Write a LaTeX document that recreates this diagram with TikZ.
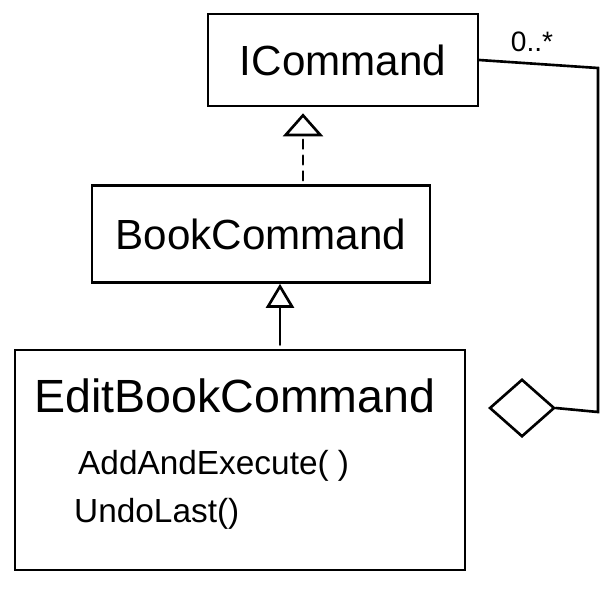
\documentclass[tikz,border=0pt]{standalone}
\usepackage{fontspec}
\setmainfont{Liberation Sans}
\usepackage{tikz}
\usetikzlibrary{arrows.meta,positioning,calc,shapes.geometric}

\begin{document}
\begin{tikzpicture}[
    x=0.02cm, y=-0.02cm,
    >=Latex,
    cls/.style={draw=black, line width=1.5pt, inner sep=0pt, align=center},
    title/.style={font=\fontsize{24}{28}\selectfont},
    meth/.style={anchor=base west, font=\fontsize{19}{23}\selectfont},
    conn/.style={line width=1.5pt, line cap=round},
    inherit/.style={conn, -{Triangle[open, length=4.8mm, width=5.6mm, line width=1.5pt]}},
    realize/.style={conn, dash pattern=on 5pt off 4pt, -{Triangle[open, length=4.6mm, width=8mm, line width=1.5pt]}}
]
\useasboundingbox (0,0) rectangle (601,596);

% classes
\node[cls, title, minimum width=5.4cm, minimum height=1.84cm] (icmd) at (343,60) {ICommand};
\node[cls, title, minimum width=6.76cm, minimum height=1.94cm] (bookcmd) at (261,234) {BookCommand};
\node[cls, minimum width=9cm, minimum height=4.4cm] (editcmd) at (240,460) {};
\node[anchor=base west, font=\fontsize{26.5}{30}\selectfont] (editname) at (28,412) {EditBookCommand};
\node[meth] (addexec) at (72,474) {AddAndExecute( )};
\node[meth] (undolast) at (68,522) {UndoLast()};

% aggregation
\node[draw=black, line width=1.5pt, diamond, minimum width=1.3cm, minimum height=1.15cm, inner sep=0pt] (agg) at (522,408) {};
\node[font=\fontsize{16}{19}\selectfont] (mult) at (532,42) {0..*};
\coordinate (bendtop) at (598,68);
\coordinate (bendbot) at (598,412);
\draw[conn] (icmd.east) -- (bendtop) -- (bendbot) -- (agg.east);

% generalization
\draw[realize] ($(bookcmd.north)+(42,-4)$) -- ($(icmd.south)+(-40,6)$);
\draw[inherit] ($(editcmd.north)+(40,-4)$) -- (bookcmd.south -| {$(editcmd.north)+(40,0)$});
\end{tikzpicture}
\end{document}
